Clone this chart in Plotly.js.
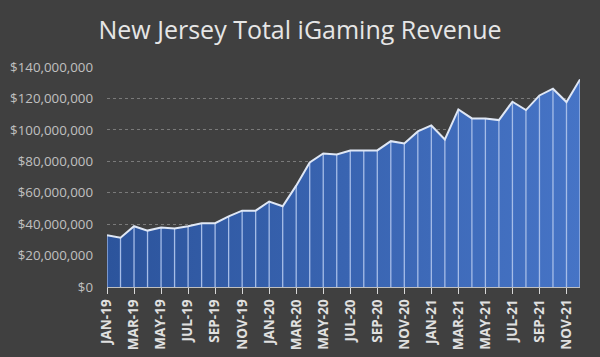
<!DOCTYPE html>
<html>
<head>
<meta charset="utf-8">
<script src="https://cdn.plot.ly/plotly-3.0.1.min.js"></script>
<style>html,body{margin:0;padding:0;background:#404040;}#chart{width:600px;height:357px;}</style>
</head>
<body>
<div id="chart"></div>
<script>
const months = ["JAN-19","FEB-19","MAR-19","APR-19","MAY-19","JUN-19","JUL-19","AUG-19","SEP-19","OCT-19","NOV-19","DEC-19",
"JAN-20","FEB-20","MAR-20","APR-20","MAY-20","JUN-20","JUL-20","AUG-20","SEP-20","OCT-20","NOV-20","DEC-20",
"JAN-21","FEB-21","MAR-21","APR-21","MAY-21","JUN-21","JUL-21","AUG-21","SEP-21","OCT-21","NOV-21","DEC-21"];
const revenue = [32900000,31400000,38700000,35900000,37800000,37200000,38700000,40600000,40600000,45000000,48600000,48600000,
54400000,51400000,64500000,79200000,85000000,84300000,86900000,86900000,86900000,92800000,91300000,99000000,
102800000,93900000,113000000,107300000,107300000,106200000,117900000,112600000,121900000,126200000,117700000,132100000];
const tickMonths = months.filter((m,i)=>i%2===0);
const yTicks = [0,20000000,40000000,60000000,80000000,100000000,120000000,140000000];
const yTickText = ["$0","$20,000,000","$40,000,000","$60,000,000","$80,000,000","$100,000,000","$120,000,000","$140,000,000"];

const dropX = [], dropY = [];
months.forEach((m,i)=>{ dropX.push(m,m,null); dropY.push(0,revenue[i],null); });

const traces = [
  {x: months, y: revenue, type:'scatter', mode:'none', fill:'tozeroy',
   fillgradient:{type:'horizontal', colorscale:[[0,'#2c549c'],[1,'#4674c6']]}, hoverinfo:'skip'},
  {x: dropX, y: dropY, type:'scatter', mode:'lines', line:{color:'#a6bde8', width:1.3}, hoverinfo:'skip'},
  {x: months, y: revenue, type:'scatter', mode:'lines', line:{color:'#dfe7f5', width:2}}
];
const layout = {
  width:600, height:357,
  paper_bgcolor:'#404040', plot_bgcolor:'#404040',
  showlegend:false,
  margin:{l:107, r:20, t:67, b:70},
  title:{text:'New Jersey Total iGaming Revenue', font:{family:'Open Sans', size:25, color:'#e6e6e6'},
    x:0.5, xanchor:'center', yref:'container', y:1-30/357, yanchor:'middle'},
  xaxis:{type:'category', range:[0,35], tickvals:tickMonths, ticktext:tickMonths, tickangle:-90,
    tickfont:{family:'Open Sans', size:13.5, color:'#e0e0e0', weight:'bold'},
    ticks:'outside', ticklen:6, tickcolor:'#d9d9d9', showline:true, linecolor:'#bfbfbf', linewidth:1,
    showgrid:false, zeroline:false},
  yaxis:{range:[0,140000000], tickvals:yTicks, ticktext:yTickText,
    tickfont:{family:'Open Sans', size:13.3, color:'#c0c0c0'},
    showgrid:true, gridcolor:'#7a7a7a', griddash:'dot', gridwidth:1, zeroline:false,
    ticks:'', ticklabelstandoff:13}
};
Plotly.newPlot('chart', traces, layout, {displayModeBar:false, staticPlot:true});
</script>
</body>
</html>
